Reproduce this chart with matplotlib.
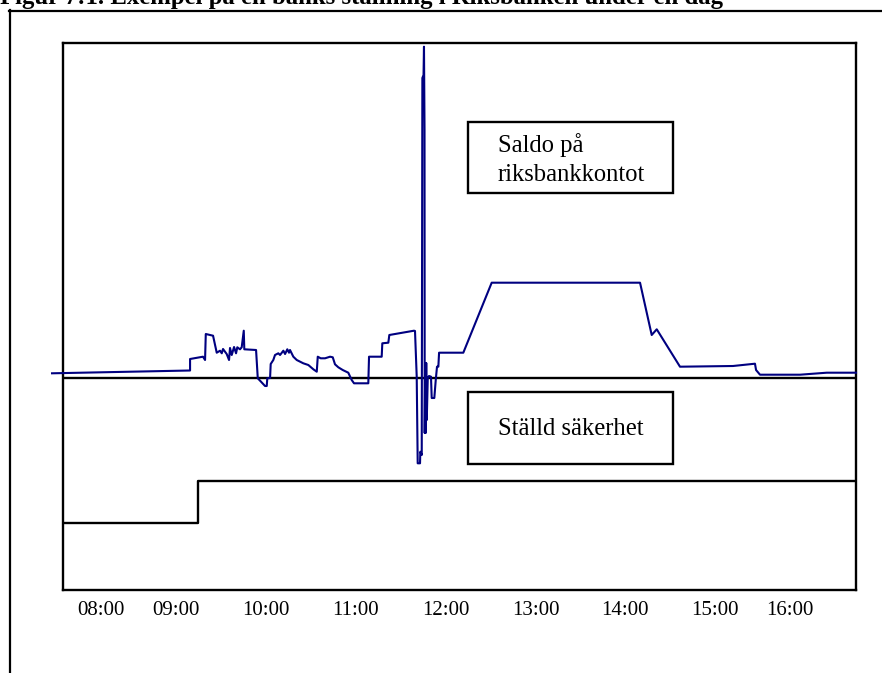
import matplotlib
matplotlib.use("Agg")
import matplotlib.pyplot as plt
from matplotlib.lines import Line2D
from matplotlib.patches import Rectangle

# ---- data (time in decimal hours, value in arbitrary units) ----
saldo_time = [7.617, 9.154, 9.154, 9.298, 9.321, 9.329, 9.410, 9.451, 9.488, 9.507,
              9.521, 9.562, 9.588, 9.599, 9.618, 9.644, 9.666, 9.680, 9.710, 9.729,
              9.752, 9.758, 9.889, 9.908, 9.944, 9.989, 10.008, 10.014, 10.045, 10.052,
              10.081, 10.100, 10.137, 10.156, 10.193, 10.212, 10.237, 10.256, 10.267, 10.304,
              10.342, 10.415, 10.471, 10.527, 10.565, 10.576, 10.609, 10.657, 10.713, 10.743,
              10.768, 10.805, 10.854, 10.916, 10.954, 10.980, 11.139, 11.147, 11.288, 11.295,
              11.362, 11.373, 11.648, 11.659, 11.678, 11.689, 11.715, 11.718, 11.734, 11.741,
              11.754, 11.759, 11.765, 11.767, 11.773, 11.778, 11.784, 11.790, 11.801, 11.815,
              11.837, 11.845, 11.874, 11.890, 11.904, 11.919, 11.927, 12.197, 12.513, 14.165,
              14.295, 14.351, 14.610, 15.200, 15.445, 15.457, 15.501, 15.947, 16.244, 16.570]
saldo_value = [0.47, 0.75, 1.90, 2.13, 1.80, 4.40, 4.23, 2.53, 2.73, 2.47,
               2.90, 2.40, 1.80, 3.00, 2.30, 3.10, 2.47, 3.07, 2.87, 3.07,
               4.73, 2.87, 2.80, -0.03, -0.37, -0.80, -0.80, -0.03, 0.00, 1.40,
               1.80, 2.30, 2.47, 2.30, 2.73, 2.40, 2.87, 2.53, 2.80, 2.13,
               1.80, 1.47, 1.30, 0.87, 0.63, 2.13, 1.97, 1.97, 2.13, 2.07,
               1.37, 1.07, 0.80, 0.53, -0.20, -0.53, -0.53, 2.13, 2.13, 3.47,
               3.53, 4.30, 4.73, 4.70, 0.13, -8.53, -8.53, -7.37, -7.70, 30.00,
               30.30, 33.13, 24.80, -5.50, 1.50, -5.50, 1.50, -4.20, -0.03, 0.20,
               0.13, -2.00, -2.00, -0.20, 1.13, 1.13, 2.53, 2.53, 9.53, 9.53,
               4.30, 4.87, 1.13, 1.20, 1.43, 0.80, 0.33, 0.33, 0.53, 0.53]

sakerhet_time = [7.739, 9.243, 16.570]
sakerhet_value = [-14.5, -10.3, -10.3]

tick_pos = [8.16, 9.0, 10.0, 11.0, 12.0, 13.0, 14.0, 15.0, 15.83]
tick_labels = ["08:00", "09:00", "10:00", "11:00", "12:00", "13:00", "14:00", "15:00", "16:00"]

title = "Figur 7:1. Exempel på en banks ställning i Riksbanken under en dag"
label_saldo = ["Saldo på", "riksbankkontot"]
label_sakerhet = "Ställd säkerhet"

# ---- figure ----
W, H = 882, 673
fig = plt.figure(figsize=(W / 100, H / 100), dpi=100)
serif = "Liberation Serif"


def fx(x):
    return x / W


def fy(y):
    return 1 - y / H


ax = fig.add_axes([fx(63), fy(590), fx(856) - fx(63), fy(43) - fy(590)])
ax.set_xlim(7.739, 16.570)
ax.set_ylim(-21.2, 33.5)
for s in ax.spines.values():
    s.set_linewidth(1.7)
    s.set_color("black")

ax.plot(saldo_time, saldo_value, color="#000080", lw=1.5, clip_on=False, zorder=3)
ax.axhline(0, color="black", lw=1.7, zorder=2)
ax.plot(sakerhet_time, sakerhet_value, drawstyle="steps-post", color="black", lw=1.7,
        zorder=2)

ax.set_yticks([])
ax.set_xticks(tick_pos)
ax.set_xticklabels(tick_labels, fontfamily=serif, fontsize=15)
ax.tick_params(axis="x", length=0, pad=8)

# outer frame
fig.add_artist(Line2D([fx(9), fx(W)], [fy(10.5), fy(10.5)], color="black", lw=1.6))
fig.add_artist(Line2D([fx(9.5), fx(9.5)], [fy(10), fy(H)], color="black", lw=1.6))

# title (top cut off, as in the reference)
fig.text(fx(0), fy(4), title, fontfamily=serif, fontweight="bold", fontsize=17.8,
         va="baseline", ha="left")

# label boxes
fig.add_artist(Rectangle((fx(468), fy(193)), fx(673) - fx(468), fy(122) - fy(193),
                         fill=False, ec="black", lw=1.7, transform=fig.transFigure))
fig.add_artist(Rectangle((fx(468), fy(464)), fx(673) - fx(468), fy(392) - fy(464),
                         fill=False, ec="black", lw=1.7, transform=fig.transFigure))
fig.text(fx(498), fy(152.3), label_saldo[0], fontfamily=serif, fontsize=17.7, va="baseline")
fig.text(fx(498), fy(180.7), label_saldo[1], fontfamily=serif, fontsize=17.7, va="baseline")
fig.text(fx(498), fy(435), label_sakerhet, fontfamily=serif, fontsize=17.7, va="baseline")

fig.savefig("out.png", dpi=100)
